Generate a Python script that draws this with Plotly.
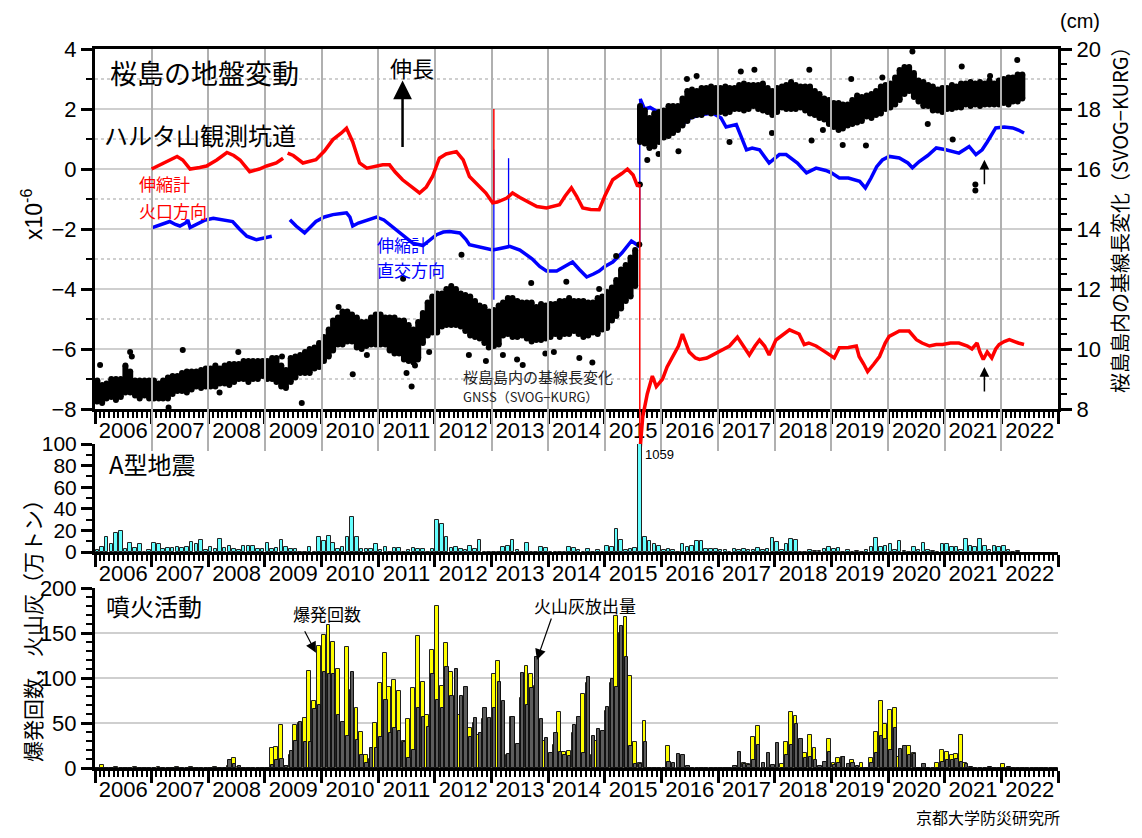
import numpy as np
import pandas as pd
import plotly.graph_objects as go
from datetime import datetime

# ---------------------------------------------------------------- data
# extensometer, radial (crater) component  [x10^-6]  (decimal year, value)
red_seg1 = [(2007.0, 0.0), (2007.2, 0.2), (2007.45, 0.42), (2007.55, 0.3), (2007.68, 0.0), (2007.85, 0.05),
            (2007.97, 0.1), (2008.15, 0.3), (2008.33, 0.55), (2008.45, 0.45), (2008.56, 0.3), (2008.73, -0.09),
            (2008.9, 0.0), (2009.03, 0.1), (2009.2, 0.2), (2009.32, 0.36)]
red_seg2 = [(2009.4, 0.53), (2009.5, 0.45), (2009.67, 0.2), (2009.8, 0.25), (2009.9, 0.31), (2010.05, 0.6),
            (2010.2, 0.98), (2010.35, 1.2), (2010.44, 1.36), (2010.55, 0.9), (2010.67, 0.2), (2010.8, 0.03),
            (2010.95, 0.1), (2011.08, 0.14), (2011.2, 0.14), (2011.3, -0.1), (2011.43, -0.36), (2011.6, -0.6),
            (2011.73, -0.8), (2011.85, -0.6), (2011.96, -0.25), (2012.08, 0.36), (2012.2, 0.5), (2012.38, 0.58),
            (2012.5, 0.3), (2012.61, -0.25), (2012.79, -0.58), (2012.9, -0.8), (2013.02, -1.13), (2013.1, -1.1),
            (2013.27, -0.97), (2013.37, -0.8), (2013.5, -0.95), (2013.62, -1.08), (2013.8, -1.25), (2013.97, -1.3),
            (2014.1, -1.25), (2014.2, -1.19), (2014.3, -0.9), (2014.41, -0.63), (2014.5, -0.9), (2014.61, -1.3),
            (2014.75, -1.35), (2014.9, -1.36), (2015.0, -0.9), (2015.14, -0.36), (2015.3, -0.15), (2015.4, 0.0),
            (2015.5, -0.2), (2015.58, -0.58), (2015.61, -0.5)]
red_seg3 = [(2015.625, -9.3), (2015.65, -8.8), (2015.67, -8.26), (2015.75, -7.5), (2015.84, -6.9), (2015.91, -7.25),
            (2016.02, -7.0), (2016.1, -6.6), (2016.2, -6.24), (2016.3, -5.9), (2016.37, -5.5), (2016.49, -6.1),
            (2016.6, -6.3), (2016.67, -6.35), (2016.8, -6.3), (2016.9, -6.2), (2017.05, -6.05), (2017.2, -5.9),
            (2017.34, -5.6), (2017.45, -5.9), (2017.55, -6.2), (2017.65, -5.9), (2017.73, -5.7), (2017.82, -5.9),
            (2017.9, -6.2), (2018.02, -5.7), (2018.15, -5.5), (2018.26, -5.36), (2018.43, -5.5), (2018.52, -5.85),
            (2018.6, -5.8), (2018.73, -5.9), (2018.91, -6.12), (2019.05, -6.3), (2019.14, -5.96), (2019.3, -5.95),
            (2019.44, -5.9), (2019.49, -6.25), (2019.57, -6.5), (2019.64, -6.75), (2019.75, -6.5), (2019.85, -6.25),
            (2019.95, -5.8), (2020.02, -5.58), (2020.2, -5.4), (2020.37, -5.4), (2020.5, -5.69), (2020.6, -5.8),
            (2020.73, -5.9), (2020.85, -5.85), (2020.96, -5.85), (2021.1, -5.8), (2021.25, -5.8), (2021.4, -5.9),
            (2021.48, -6.0), (2021.57, -5.8), (2021.62, -6.1), (2021.68, -6.35), (2021.75, -6.1), (2021.83, -6.3),
            (2021.9, -6.0), (2021.96, -5.85), (2022.05, -5.75), (2022.14, -5.69), (2022.3, -5.8), (2022.4, -5.85)]
red_jumps = [(2013.04, -1.13, 2.0), (2015.618, -0.5, -9.3)]

# extensometer, tangential component
blue_seg1 = [(2007.0, -1.96), (2007.15, -1.85), (2007.32, -1.75), (2007.42, -1.85), (2007.5, -1.9), (2007.6, -1.8),
             (2007.64, -1.7), (2007.68, -1.95), (2007.8, -1.85), (2007.95, -1.7), (2008.09, -1.64), (2008.25, -1.7),
             (2008.43, -1.75), (2008.55, -2.0), (2008.68, -2.24), (2008.85, -2.36), (2009.0, -2.3), (2009.12, -2.24)]
blue_seg2 = [(2009.44, -1.69), (2009.55, -1.9), (2009.7, -2.13), (2009.8, -1.95), (2009.9, -1.75), (2010.05, -1.6),
             (2010.2, -1.52), (2010.35, -1.48), (2010.44, -1.46), (2010.5, -1.6), (2010.55, -1.9), (2010.65, -1.8),
             (2010.73, -1.75), (2010.85, -1.7), (2010.97, -1.6), (2011.1, -1.7), (2011.2, -1.85), (2011.38, -2.13),
             (2011.5, -2.3), (2011.61, -2.47), (2011.79, -2.55), (2011.9, -2.4), (2012.03, -2.19), (2012.15, -2.1),
             (2012.26, -2.08), (2012.44, -2.13), (2012.55, -2.35), (2012.61, -2.52), (2012.8, -2.6), (2013.02, -2.7),
             (2013.15, -2.65), (2013.32, -2.58), (2013.5, -2.7), (2013.6, -2.85), (2013.72, -3.0), (2013.85, -3.25),
             (2013.97, -3.4), (2014.15, -3.4), (2014.3, -3.25), (2014.43, -3.1), (2014.55, -3.35), (2014.68, -3.6),
             (2014.8, -3.5), (2014.9, -3.4), (2015.0, -3.25), (2015.14, -3.1), (2015.3, -2.8), (2015.47, -2.4),
             (2015.55, -2.5), (2015.61, -2.6)]
blue_seg3 = [(2015.625, 2.34), (2015.7, 2.0), (2015.8, 2.05), (2015.93, 1.9), (2016.1, 1.7), (2016.25, 1.55),
             (2016.37, 1.48), (2016.5, 1.7), (2016.67, 1.8), (2016.9, 1.87), (2017.05, 1.7), (2017.14, 1.4),
             (2017.32, 1.48), (2017.42, 1.0), (2017.5, 0.64), (2017.6, 0.7), (2017.73, 0.64), (2017.9, 0.2),
             (2018.08, 0.48), (2018.2, 0.48), (2018.4, 0.2), (2018.56, -0.13), (2018.73, 0.03), (2018.9, -0.05),
             (2019.0, -0.13), (2019.14, -0.3), (2019.3, -0.3), (2019.5, -0.41), (2019.6, -0.63), (2019.7, -0.3),
             (2019.8, 0.08), (2019.9, 0.3), (2020.02, 0.42), (2020.2, 0.37), (2020.35, 0.2), (2020.43, 0.04),
             (2020.55, 0.25), (2020.7, 0.45), (2020.85, 0.7), (2021.02, 0.64), (2021.25, 0.53), (2021.35, 0.65),
             (2021.43, 0.75), (2021.55, 0.48), (2021.62, 0.6), (2021.66, 0.64), (2021.75, 0.9), (2021.9, 1.37),
             (2022.05, 1.4), (2022.2, 1.37), (2022.3, 1.3), (2022.4, 1.2)]
blue_jumps = [(2013.04, -4.36, 0.64), (2013.30, -2.6, 0.36), (2015.618, -2.6, 2.34)]

# GNSS baseline SVOG-KURG, monthly level [cm] from 2006-01
gnss_cm = [8.6, 8.5, 8.6, 8.7, 8.65, 8.7, 9.0, 8.9, 8.7, 8.65, 8.7, 8.65,
           8.65, 8.6, 8.65, 8.7, 8.8, 8.85, 8.9, 8.9, 8.95, 9.0, 9.0, 9.05,
           9.05, 9.1, 9.1, 9.15, 9.15, 9.2, 9.25, 9.3, 9.25, 9.3, 9.3, 9.35,
           9.3, 9.35, 9.3, 9.1, 9.0, 9.3, 9.4, 9.5, 9.55, 9.6, 9.7, 9.8,
           10.0, 10.2, 10.45, 10.6, 10.7, 10.75, 10.7, 10.55, 10.45, 10.5, 10.6, 10.65,
           10.65, 10.6, 10.5, 10.45, 10.4, 10.3, 10.2, 10.1, 10.3, 10.7, 11.0, 11.15,
           11.2, 11.3, 11.4, 11.45, 11.4, 11.3, 11.2, 11.1, 11.0, 10.9, 10.8, 10.7,
           10.7, 10.8, 11.0, 11.1, 11.05, 11.0, 11.0, 10.95, 10.9, 10.85, 10.9, 10.9,
           10.95, 11.0, 11.0, 11.05, 11.1, 11.1, 11.05, 11.0, 11.0, 11.05, 11.1, 11.2,
           11.3, 11.5, 11.7, 12.0, 12.2, 12.4, 12.7, 17.5, 17.4, 17.2, 17.3, 17.4,
           17.5, 17.6, 17.65, 17.7, 17.9, 18.1, 18.2, 18.2, 18.25, 18.3, 18.3, 18.3,
           18.3, 18.3, 18.3, 18.35, 18.4, 18.4, 18.4, 18.45, 18.4, 18.4, 18.3, 18.2,
           18.3, 18.4, 18.4, 18.45, 18.4, 18.4, 18.35, 18.3, 18.2, 18.1, 18.0, 17.9,
           17.8, 17.75, 17.75, 17.8, 17.9, 18.0, 18.0, 18.1, 18.1, 18.2, 18.3, 18.4,
           18.45, 18.6, 18.8, 18.95, 19.0, 18.8, 18.6, 18.5, 18.45, 18.35, 18.3, 18.3,
           18.35, 18.4, 18.4, 18.45, 18.5, 18.5, 18.5, 18.5, 18.5, 18.55, 18.5, 18.55,
           18.6, 18.6, 18.65, 18.7, 18.75]
# half scatter of the daily GNSS values in each month [cm]
gnss_spread = [0.35, 0.3, 0.25, 0.3, 0.35, 0.3, 0.45, 0.35, 0.25, 0.3, 0.25, 0.3,
               0.3, 0.25, 0.3, 0.35, 0.3, 0.25, 0.3, 0.35, 0.3, 0.25, 0.3, 0.3,
               0.3, 0.35, 0.25, 0.3, 0.35, 0.3, 0.25, 0.3, 0.35, 0.3, 0.3, 0.25,
               0.3, 0.35, 0.4, 0.35, 0.3, 0.4, 0.35, 0.3, 0.35, 0.4, 0.35, 0.4,
               0.4, 0.45, 0.5, 0.45, 0.55, 0.5, 0.45, 0.5, 0.45, 0.4, 0.45, 0.5,
               0.5, 0.45, 0.55, 0.6, 0.55, 0.65, 0.6, 0.55, 0.6, 0.5, 0.55, 0.6,
               0.65, 0.55, 0.6, 0.65, 0.6, 0.55, 0.6, 0.65, 0.6, 0.55, 0.6, 0.55,
               0.6, 0.65, 0.55, 0.6, 0.65, 0.6, 0.55, 0.6, 0.65, 0.55, 0.6, 0.55,
               0.55, 0.5, 0.6, 0.55, 0.6, 0.5, 0.55, 0.6, 0.55, 0.5, 0.6, 0.55,
               0.6, 0.55, 0.6, 0.65, 0.6, 0.65, 0.6, 0.6, 0.55, 0.5, 0.55, 0.5,
               0.45, 0.5, 0.45, 0.4, 0.45, 0.5, 0.45, 0.4, 0.45, 0.4, 0.45, 0.4,
               0.4, 0.45, 0.4, 0.35, 0.4, 0.45, 0.4, 0.35, 0.4, 0.45, 0.4, 0.4,
               0.4, 0.35, 0.4, 0.45, 0.4, 0.35, 0.4, 0.45, 0.4, 0.4, 0.35, 0.4,
               0.4, 0.45, 0.4, 0.35, 0.4, 0.45, 0.4, 0.35, 0.4, 0.4, 0.45, 0.4,
               0.4, 0.45, 0.5, 0.45, 0.4, 0.4, 0.35, 0.4, 0.35, 0.4, 0.35, 0.4,
               0.35, 0.4, 0.35, 0.4, 0.35, 0.4, 0.35, 0.4, 0.35, 0.4, 0.35, 0.4,
               0.4, 0.45, 0.4, 0.45, 0.4]
# isolated daily values lying outside the main scatter (decimal year, cm)
gnss_outliers = [(2006.09, 9.47), (2006.62, 9.9), (2006.65, 9.75), (2007.55, 9.97), (2007.3, 8.05), (2008.53, 9.9),
                 (2008.2, 8.55), (2009.65, 8.2), (2009.3, 9.75), (2010.55, 9.16), (2010.3, 11.4), (2010.8, 9.8),
                 (2011.44, 12.34), (2011.59, 8.75), (2011.5, 9.2), (2011.65, 9.45), (2011.7, 9.65), (2011.9, 9.9),
                 (2012.47, 13.14), (2012.9, 9.6), (2012.6, 9.8), (2012.95, 10.05), (2013.2, 9.8), (2013.45, 9.65),
                 (2013.55, 9.47), (2013.7, 12.2), (2013.95, 9.85), (2014.1, 9.9), (2014.32, 12.24), (2014.55, 9.7),
                 (2014.78, 9.55), (2014.9, 12.0), (2015.2, 13.1), (2015.61, 13.48), (2015.62, 15.48),
                 (2015.75, 16.3), (2015.95, 16.5), (2016.3, 16.59), (2016.62, 19.1), (2016.45, 19.0),
                 (2017.2, 16.9), (2017.4, 19.25), (2017.64, 19.31), (2017.95, 17.2), (2018.61, 19.31),
                 (2018.65, 16.95), (2018.85, 17.3), (2019.2, 16.8), (2019.35, 19.0), (2019.61, 16.78),
                 (2019.9, 19.05), (2020.43, 19.92), (2020.7, 17.5), (2021.14, 16.98), (2021.3, 19.42),
                 (2021.54, 15.48), (2021.54, 15.28), (2021.8, 19.1), (2022.28, 19.63)]

# monthly number of A-type earthquakes from 2006-01
eq_counts = [2, 5, 14, 7, 18, 19, 3, 8, 4, 7, 0, 2,
             8, 7, 3, 4, 4, 5, 4, 5, 9, 7, 11, 2,
             5, 3, 12, 4, 6, 3, 2, 6, 6, 6, 3, 3,
             8, 3, 4, 11, 5, 3, 3, 0, 0, 5, 0, 14,
             10, 15, 8, 3, 5, 14, 32, 14, 3, 3, 3, 7,
             2, 5, 0, 4, 4, 0, 2, 4, 3, 3, 0, 3,
             30, 26, 14, 4, 5, 3, 2, 6, 3, 11, 0, 0,
             0, 0, 5, 6, 11, 2, 0, 8, 0, 0, 5, 4,
             0, 0, 0, 0, 5, 4, 2, 0, 3, 0, 2, 0,
             6, 5, 21, 11, 2, 3, 4, 1059, 14, 10, 7, 6,
             2, 3, 2, 0, 7, 5, 6, 10, 10, 3, 3, 3,
             2, 2, 0, 3, 2, 3, 2, 2, 4, 2, 3, 13,
             9, 2, 7, 12, 11, 0, 0, 2, 1, 1, 3, 5,
             3, 4, 0, 2, 0, 1, 0, 2, 5, 13, 5, 6,
             7, 2, 10, 1, 0, 5, 2, 8, 2, 1, 0, 7,
             7, 5, 5, 2, 12, 6, 5, 12, 6, 2, 6, 5,
             6, 2, 0, 1]

# monthly number of explosions from 2006-01
explosions = [0, 3, 0, 0, 1, 0, 0, 0, 1, 0, 0, 0,
              0, 1, 0, 0, 0, 1, 0, 0, 1, 0, 0, 0,
              0, 1, 0, 0, 2, 11, 1, 0, 0, 0, 0, 0,
              0, 22, 23, 48, 2, 14, 48, 50, 56, 108, 75, 136,
              148, 159, 140, 110, 45, 134, 87, 67, 40, 15, 10, 50,
              95, 128, 90, 98, 86, 30, 54, 89, 147, 96, 59, 131,
              180, 91, 139, 107, 65, 59, 57, 45, 50, 37, 54, 50,
              105, 119, 60, 15, 57, 24, 78, 113, 105, 91, 45, 30,
              15, 26, 62, 18, 19, 39, 17, 82, 94, 15, 30, 28,
              63, 95, 169, 150, 168, 102, 29, 6, 52, 0, 0, 0,
              0, 24, 0, 0, 0, 0, 0, 0, 0, 0, 0, 0,
              0, 0, 0, 0, 2, 6, 4, 34, 47, 0, 0, 0,
              0, 4, 29, 62, 58, 13, 17, 37, 22, 0, 0, 32,
              6, 11, 12, 0, 9, 0, 6, 0, 11, 40, 75, 49,
              65, 67, 12, 13, 24, 17, 0, 0, 0, 0, 6, 20,
              18, 15, 16, 37, 6, 0, 0, 0, 0, 0, 0, 0,
              4, 0, 0, 0, 0, 0, 0, 0, 0, 0, 0, 0]
# monthly ash emission [10^4 t] from 2006-01
ash = [0, 0, 0, 0, 0, 0, 0, 0, 0, 0, 0, 0,
       0, 0, 0, 0, 0, 0, 0, 0, 0, 0, 0, 0,
       0, 0, 0, 0, 9, 5, 2, 0, 0, 0, 0, 0,
       0, 3, 9, 10, 2, 19, 30, 51, 29, 29, 66, 70,
       107, 105, 104, 59, 51, 36, 107, 31, 14, 6, 22, 22,
       35, 76, 39, 44, 41, 29, 11, 20, 67, 57, 46, 105,
       76, 67, 112, 80, 110, 80, 90, 35, 56, 39, 67, 56,
       67, 96, 75, 16, 57, 27, 106, 70, 89, 123, 54, 33,
       17, 39, 18, 14, 13, 48, 57, 17, 101, 36, 43, 41,
       68, 99, 90, 158, 123, 25, 5, 5, 29, 0, 0, 0,
       0, 7, 6, 16, 14, 2, 0, 0, 0, 0, 0, 0,
       0, 0, 0, 2, 18, 5, 3, 9, 26, 6, 17, 3,
       28, 0, 15, 26, 49, 32, 11, 12, 9, 2, 7, 18,
       3, 6, 12, 4, 6, 2, 0, 0, 6, 17, 36, 32,
       20, 44, 21, 25, 15, 16, 0, 4, 0, 0, 0, 7,
       9, 9, 10, 7, 4, 1, 0, 0, 0, 1, 0, 0,
       0, 1, 0, 0, 0, 0, 0, 0, 0, 0, 0, 0]

year_first, year_last = 2006, 2023

# ---------------------------------------------------------------- helpers
def dy(y):
    yr = int(np.floor(y))
    a, b = datetime(yr, 1, 1), datetime(yr + 1, 1, 1)
    return a + (b - a) * (y - yr)

def seg_xy(*segs):
    xs, ys = [], []
    for s in segs:
        xs += [dy(t) for t, _ in s] + [None]
        ys += [v for _, v in s] + [None]
    return xs, ys

def jump_xy(jumps):
    xs, ys = [], []
    for t, a, b in jumps:
        xs += [dy(t), dy(t), None]
        ys += [a, b, None]
    return xs, ys

MONTH_MS = 30.44 * 86400 * 1000
FONT = "Liberation Sans, Arial, Noto Sans CJK JP"
JP = "Noto Sans CJK JP, Liberation Sans"

# the page has an 8px body margin: figure is 1126 x 822, placed at (8, 8)
OFF = 8
W, H = 1142 - 2 * OFF, 838 - 2 * OFF
def px(x): return (x - OFF) / W
def py(y): return 1 - (y - OFF) / H

XDOM = [px(95), px(1058)]

fig = go.Figure()

# GNSS cloud (right axis)
g_months = pd.date_range("2006-01-01", periods=len(gnss_cm), freq="MS") + pd.Timedelta(days=15)
fig.add_trace(go.Scatter(x=g_months, y=gnss_cm, mode="markers", yaxis="y2",
                         marker=dict(color="black", size=4),
                         error_y=dict(type="data", array=gnss_spread, visible=True, thickness=6, width=0,
                                      color="black"),
                         hoverinfo="skip"))
fig.add_trace(go.Scatter(x=list(g_months) * 2,
                         y=[v + s for v, s in zip(gnss_cm, gnss_spread)] + [v - s for v, s in zip(gnss_cm, gnss_spread)],
                         mode="markers", yaxis="y2", marker=dict(color="black", size=6), hoverinfo="skip"))
fig.add_trace(go.Scatter(x=[dy(t) for t, _ in gnss_outliers], y=[v for _, v in gnss_outliers], mode="markers",
                         yaxis="y2", marker=dict(color="black", size=6), hoverinfo="skip"))

# blue (left axis)
bx, by = seg_xy(blue_seg1, blue_seg2, blue_seg3)
fig.add_trace(go.Scatter(x=bx, y=by, mode="lines", yaxis="y", line=dict(color="#0000ff", width=3.5)))
jx, jy = jump_xy(blue_jumps)
fig.add_trace(go.Scatter(x=jx, y=jy, mode="lines", yaxis="y", line=dict(color="#0000ff", width=1.3)))

# red (same scale, extended hidden axis so the drop is not cut at -8)
rx, ry = seg_xy(red_seg1, red_seg2, red_seg3)
fig.add_trace(go.Scatter(x=rx, y=ry, mode="lines", xaxis="x", yaxis="y5", line=dict(color="#ff0000", width=3.5)))
jx, jy = jump_xy(red_jumps)
fig.add_trace(go.Scatter(x=jx, y=jy, mode="lines", xaxis="x", yaxis="y5", line=dict(color="#ff0000", width=1.5)))

# A-type earthquakes
months = pd.date_range("2006-01-01", periods=len(eq_counts), freq="MS")
fig.add_trace(go.Bar(x=months, y=eq_counts, xaxis="x2", yaxis="y3",
                     offset=0.12 * MONTH_MS, width=0.76 * MONTH_MS,
                     marker=dict(color="#66ffff", line=dict(color="#222222", width=1))))

# eruptions
m2 = pd.date_range("2006-01-01", periods=len(explosions), freq="MS")
fig.add_trace(go.Bar(x=m2, y=explosions, xaxis="x3", yaxis="y4",
                     offset=0.02 * MONTH_MS, width=0.82 * MONTH_MS,
                     marker=dict(color="#ffff00", line=dict(color="#222222", width=1))))
fig.add_trace(go.Bar(x=m2, y=ash, xaxis="x3", yaxis="y4",
                     offset=0.25 * MONTH_MS, width=0.72 * MONTH_MS,
                     marker=dict(color="#5c5c5c", line=dict(color="#111111", width=1))))

# ---------------------------------------------------------------- axes
xr = [datetime(year_first, 1, 1), datetime(year_last, 1, 1)]
def xaxis(anchor, grid, mirror):
    return dict(domain=XDOM, anchor=anchor, type="date", range=xr, tick0="2006-01-01", dtick="M12",
                ticklabelmode="period", tickformat="%Y", ticks="outside", ticklen=12, tickwidth=2.5,
                tickcolor="black", showline=True, linewidth=3, linecolor="black", mirror=mirror,
                showgrid=grid, gridcolor="#b0b0b0", gridwidth=1.5, zeroline=False, automargin=False,
                minor=dict(dtick="M1", ticks="outside", ticklen=6, tickwidth=1.5, tickcolor="black", showgrid=False),
                tickfont=dict(size=22, color="black", family=FONT), ticklabelstandoff=-12)

def yaxis(domain, rng, dtick, mdtick, anchor, grid=False, mgrid=False, fsize=22, **kw):
    d = dict(domain=domain, range=rng, dtick=dtick, tick0=0, anchor=anchor, ticks="outside", ticklen=11,
             tickwidth=2.5, tickcolor="black", showline=True, linewidth=3, linecolor="black",
             showgrid=grid, gridcolor="#cfcfcf", gridwidth=1.5, zeroline=False, automargin=False,
             minor=dict(dtick=mdtick, tick0=0, ticks="outside", ticklen=6, tickwidth=1.5, tickcolor="black",
                        showgrid=mgrid, gridcolor="#cfcfcf", gridwidth=1.5, griddash="dot"),
             tickfont=dict(size=fsize, color="black", family=FONT))
    d.update(kw)
    return d

TOP = [py(409), py(49)]
MID = [py(552), py(444)]
BOT = [py(768), py(588)]

fig.update_layout(
    width=W, height=H, margin=dict(l=0, r=0, t=0, b=0, pad=0, autoexpand=False),
    paper_bgcolor="white", plot_bgcolor="rgba(0,0,0,0)",
    showlegend=False, barmode="overlay", bargap=0,
    font=dict(family=FONT, color="black"),
    xaxis=xaxis("y", True, True),
    xaxis2=xaxis("y3", False, False),
    xaxis3=xaxis("y4", False, False),
    yaxis=yaxis(TOP, [-8, 4], 2, 1, "x", grid=True, mgrid=True),
    yaxis2=yaxis(TOP, [8, 20], 2, 0.5, "x", overlaying="y", side="right"),
    yaxis5=dict(domain=[py(451), py(49)], range=[-9.4, 4], anchor="x", visible=False, showgrid=False),
    yaxis3=yaxis(MID, [0, 100], 20, 10, "x2", fsize=21),
    yaxis4=yaxis(BOT, [0, 200], 50, 10, "x3", grid=True),
)

# ---------------------------------------------------------------- text
ann = []
def txt(x, y, s, size, color="black", xanchor="left", yanchor="middle", angle=0, family=JP):
    ann.append(dict(x=px(x), y=py(y), xref="paper", yref="paper", text=s, showarrow=False,
                    xanchor=xanchor, yanchor=yanchor, textangle=angle,
                    font=dict(size=size, color=color, family=family)))

txt(108, 72, "桜島の地盤変動", 27)
txt(388, 67, "伸長", 22)
txt(102, 135, "ハルタ山観測坑道", 24)
txt(137, 184, "伸縮計", 17, "#ff0000")
txt(137, 210, "火口方向", 17, "#ff0000")
txt(375, 245, "伸縮計", 17, "#0000ff")
txt(375, 270, "直交方向", 17, "#0000ff")
txt(461, 376, "桜島島内の基線長変化", 15, "#222222")
txt(461, 396, "GNSS（SVOG−KURG）", 13, "#222222")
txt(643, 455, "1059", 13, family=FONT)
txt(107, 463, "A型地震", 24)
txt(104, 605, "噴火活動", 24)
txt(291, 613, "爆発回数", 17)
txt(532, 605, "火山灰放出量", 17)
txt(1062, 817, "京都大学防災研究所", 16, xanchor="right")
txt(1080, 21, "(cm)", 20, xanchor="center", family=FONT)
txt(32, 215, "x10<sup>-6</sup>", 23, xanchor="center", angle=-90, family=FONT)
txt(1119, 215, "桜島島内の基線長変化（SVOG−KURG）", 20, xanchor="center", angle=-90)
txt(32, 626, "爆発回数，火山灰（万トン）", 21, xanchor="center", angle=-90)

# arrows
def arrow(xd, yd, xref, yref, ax, ay, width=2.5, size=1.4):
    ann.append(dict(x=dy(xd), y=yd, xref=xref, yref=yref, ax=ax, ay=ay, text="", showarrow=True,
                    arrowhead=2, arrowsize=size, arrowwidth=width, arrowcolor="black"))

arrow(2011.43, 2.95, "x", "y", 0, 68, 2.5, 1.5)
arrow(2021.7, 0.31, "x", "y", 0, 26, 1.5, 1.3)
arrow(2021.7, -6.6, "x", "y", 0, 26, 1.5, 1.3)
arrow(2009.9, 128, "x3", "y4", -12, -23, 1.2, 1.8)
arrow(2013.8, 120, "x3", "y4", 15, -43, 1.2, 1.8)

fig.update_layout(annotations=ann)
fig.write_html("out.html")
